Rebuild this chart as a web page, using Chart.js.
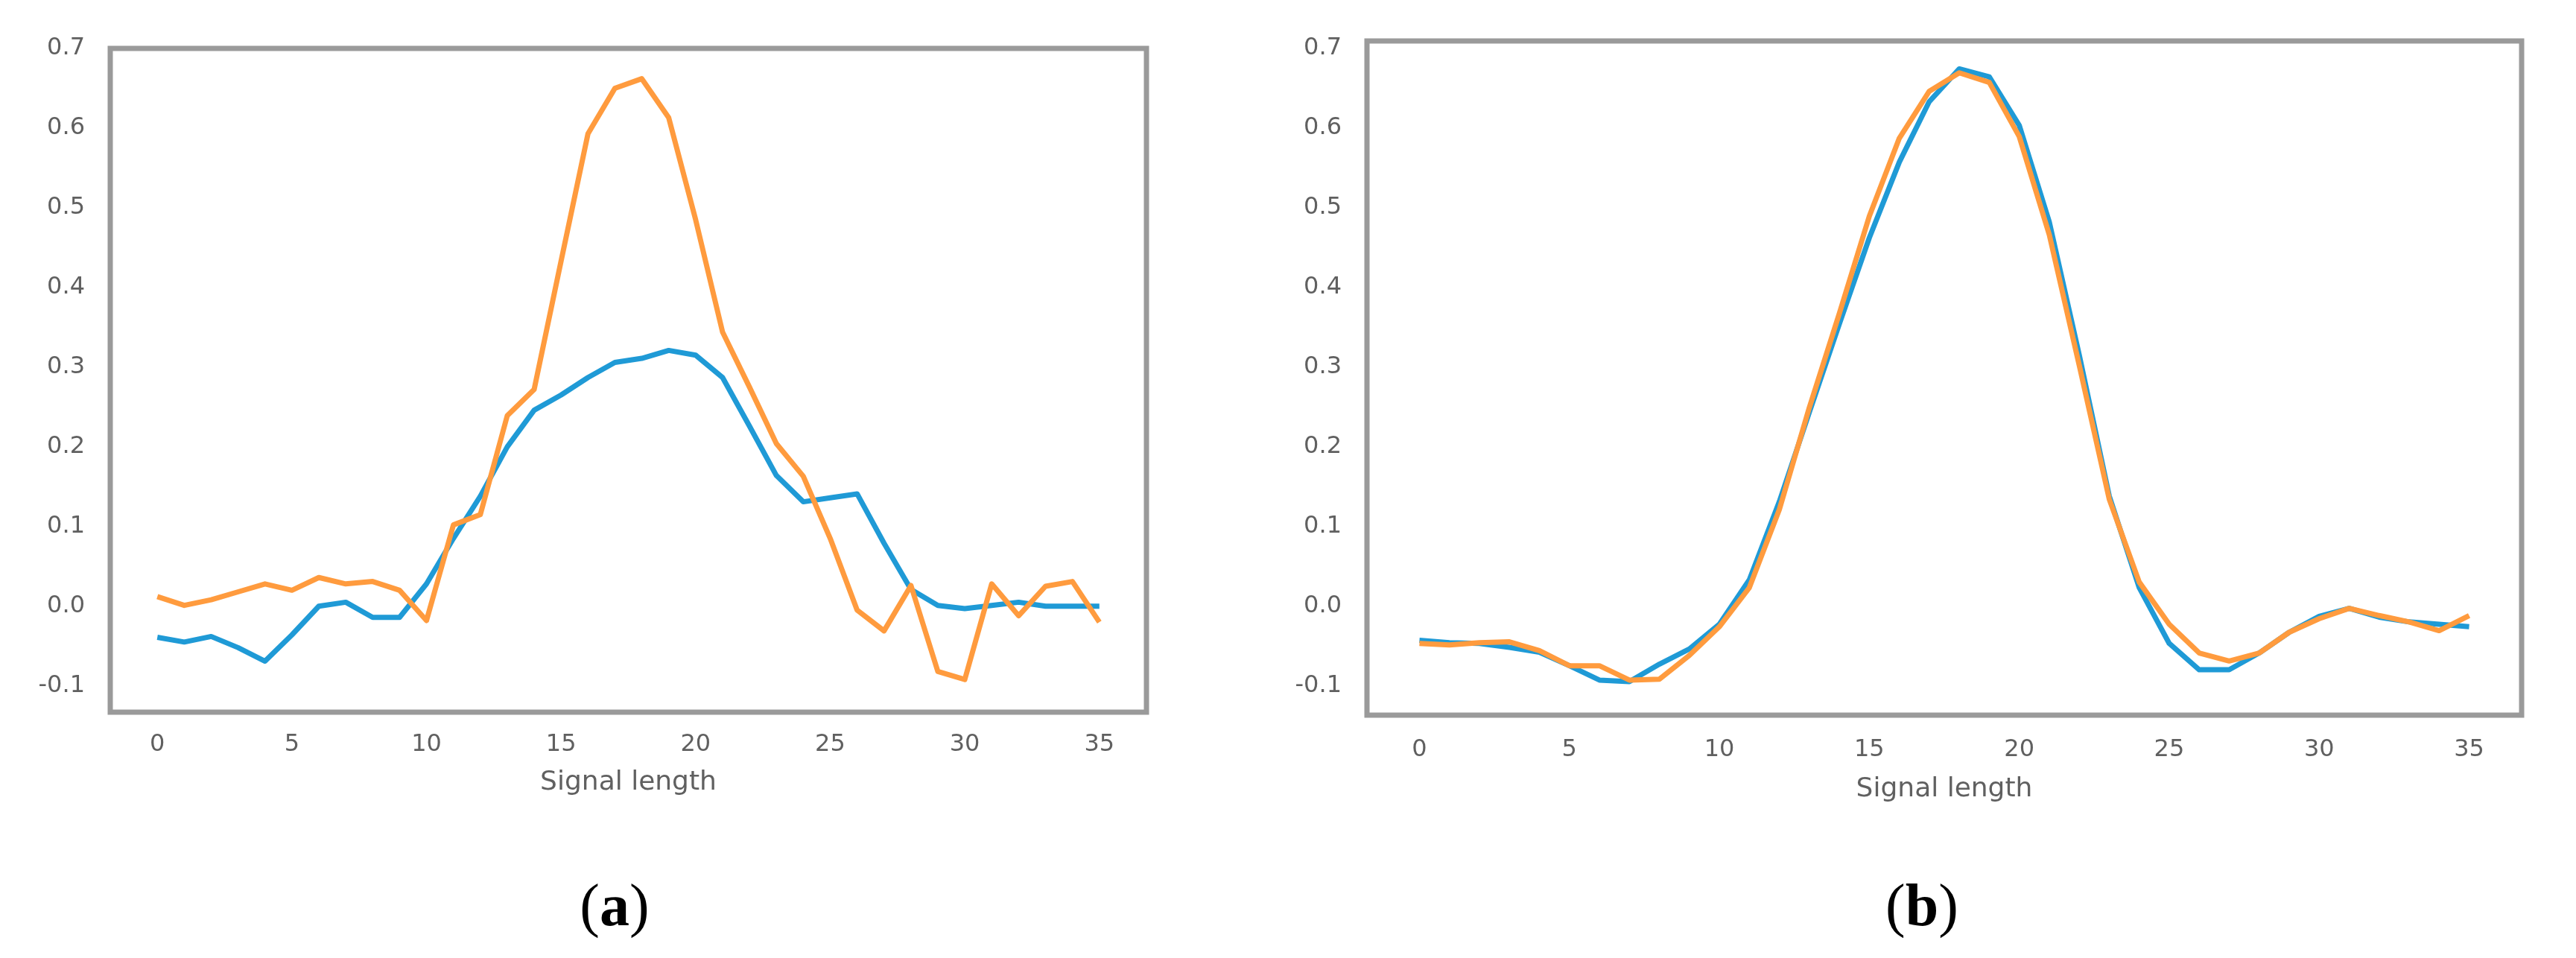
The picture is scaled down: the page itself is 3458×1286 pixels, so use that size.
<!DOCTYPE html>
<html>
<head>
<meta charset="utf-8">
<script src="https://cdn.jsdelivr.net/npm/chart.js@4.4.1/dist/chart.umd.min.js"></script>
<style>
  html, body { margin: 0; padding: 0; background: #fff; }
  body { width: 3458px; height: 1286px; position: relative; overflow: hidden; }
  canvas { position: absolute; top: 0; }
  #chartA { left: 0; }
  #chartB { left: 1700px; }
  .cap {
    position: absolute; top: 1215px; transform: translate(-50%, -50%);
    font-family: 'Liberation Serif', 'Times New Roman', serif; font-size: 80px;
    line-height: 1; color: #000; white-space: nowrap;
  }
</style>
</head>
<body>
<canvas id="chartA" width="1700" height="1130"></canvas>
<canvas id="chartB" width="1758" height="1130"></canvas>
<div class="cap" style="left:825px">(<b>a</b>)</div>
<div class="cap" style="left:2580px">(<b>b</b>)</div>

<script>
// signal index along x
const signalIdx = [0,1,2,3,4,5,6,7,8,9,10,11,12,13,14,15,16,17,18,19,20,21,22,23,24,25,26,27,28,29,30,31,32,33,34,35];
const xTicks = [0, 5, 10, 15, 20, 25, 30, 35];
const yTicks = [-0.1, 0.0, 0.1, 0.2, 0.3, 0.4, 0.5, 0.6, 0.7];

// (a)
const aBlue = [-0.039,-0.045,-0.038,-0.052,-0.069,-0.036,0.000,0.005,-0.014,-0.014,0.028,0.085,0.138,0.200,0.246,0.265,0.287,0.306,0.311,0.321,0.315,0.287,0.226,0.164,0.131,0.136,0.141,0.079,0.021,0.001,-0.003,0.001,0.005,0.000,0.000,0.000];
const aOrange = [0.012,0.001,0.008,0.018,0.028,0.020,0.036,0.028,0.031,0.020,-0.018,0.102,0.115,0.239,0.272,0.433,0.593,0.650,0.662,0.613,0.485,0.344,0.275,0.204,0.163,0.085,-0.005,-0.031,0.026,-0.082,-0.092,0.028,-0.012,0.025,0.031,-0.020];

// (b)
const bBlue = [-0.043,-0.046,-0.047,-0.052,-0.058,-0.075,-0.093,-0.095,-0.073,-0.054,-0.023,0.033,0.131,0.243,0.354,0.462,0.557,0.633,0.674,0.664,0.603,0.482,0.315,0.138,0.023,-0.047,-0.080,-0.080,-0.059,-0.033,-0.013,-0.003,-0.014,-0.020,-0.023,-0.026];
const bOrange = [-0.047,-0.049,-0.046,-0.045,-0.056,-0.075,-0.075,-0.093,-0.092,-0.062,-0.026,0.023,0.121,0.249,0.367,0.489,0.587,0.646,0.669,0.657,0.589,0.466,0.302,0.134,0.030,-0.023,-0.059,-0.069,-0.059,-0.033,-0.016,-0.003,-0.012,-0.020,-0.031,-0.012];

const BLUE = '#1f9ad6';
const ORANGE = '#ff9b3e';
const TEXT = '#606060';
const FONT = "'DejaVu Sans', sans-serif";

// grey box around the plot area, like the matplotlib spines
const framePlugin = {
  id: 'frame',
  afterDatasetsDraw(chart) {
    const { ctx, chartArea: a } = chart;
    ctx.save();
    ctx.strokeStyle = '#9a9a9a';
    ctx.lineWidth = 7;
    ctx.strokeRect(a.left, a.top, a.right - a.left, a.bottom - a.top);
    ctx.restore();
  }
};

function pts(vals) { return vals.map((v, i) => ({ x: signalIdx[i], y: v })); }

function makeChart(id, blue, orange, box) {
  new Chart(document.getElementById(id), {
    type: 'line',
    data: {
      datasets: [
        { data: pts(orange), borderColor: ORANGE, borderWidth: 7, pointRadius: 0, tension: 0, borderJoinStyle: 'round', order: 0 },
        { data: pts(blue), borderColor: BLUE, borderWidth: 7, pointRadius: 0, tension: 0, borderJoinStyle: 'round', order: 1 }
      ]
    },
    options: {
      responsive: false,
      animation: false,
      events: [],
      layout: { padding: { top: box.top, right: box.right, left: 0, bottom: 0 } },
      plugins: { legend: { display: false }, tooltip: { enabled: false } },
      scales: {
        x: {
          type: 'linear', min: -1.75, max: 36.75,
          grid: { display: false, drawTicks: false },
          border: { display: false },
          afterBuildTicks: s => { s.ticks = xTicks.map(v => ({ value: v })); },
          afterFit: s => { s.height = box.xH; },
          ticks: { color: TEXT, font: { family: FONT, size: 32 }, padding: box.tickPad, maxRotation: 0 },
          title: { display: true, text: 'Signal length', color: TEXT, font: { family: FONT, size: 36 }, padding: { top: 0, bottom: box.titleB } }
        },
        y: {
          type: 'linear', min: box.yMin, max: box.yMax,
          grid: { display: false, drawTicks: false },
          border: { display: false },
          afterBuildTicks: s => { s.ticks = yTicks.map(v => ({ value: v })); },
          afterFit: s => { s.width = box.yW; },
          ticks: { color: TEXT, font: { family: FONT, size: 32 }, padding: 34, callback: v => v.toFixed(1) }
        }
      }
    },
    plugins: [framePlugin]
  });
}

makeChart('chartA', aBlue, aOrange, { top: 65, right: 161, yW: 148, xH: 174, tickPad: 24, titleB: 58, yMin: -0.133, yMax: 0.700 });
makeChart('chartB', bBlue, bOrange, { top: 55, right: 73, yW: 135, xH: 170, tickPad: 27, titleB: 49, yMin: -0.137, yMax: 0.709 });
</script>
</body>
</html>
